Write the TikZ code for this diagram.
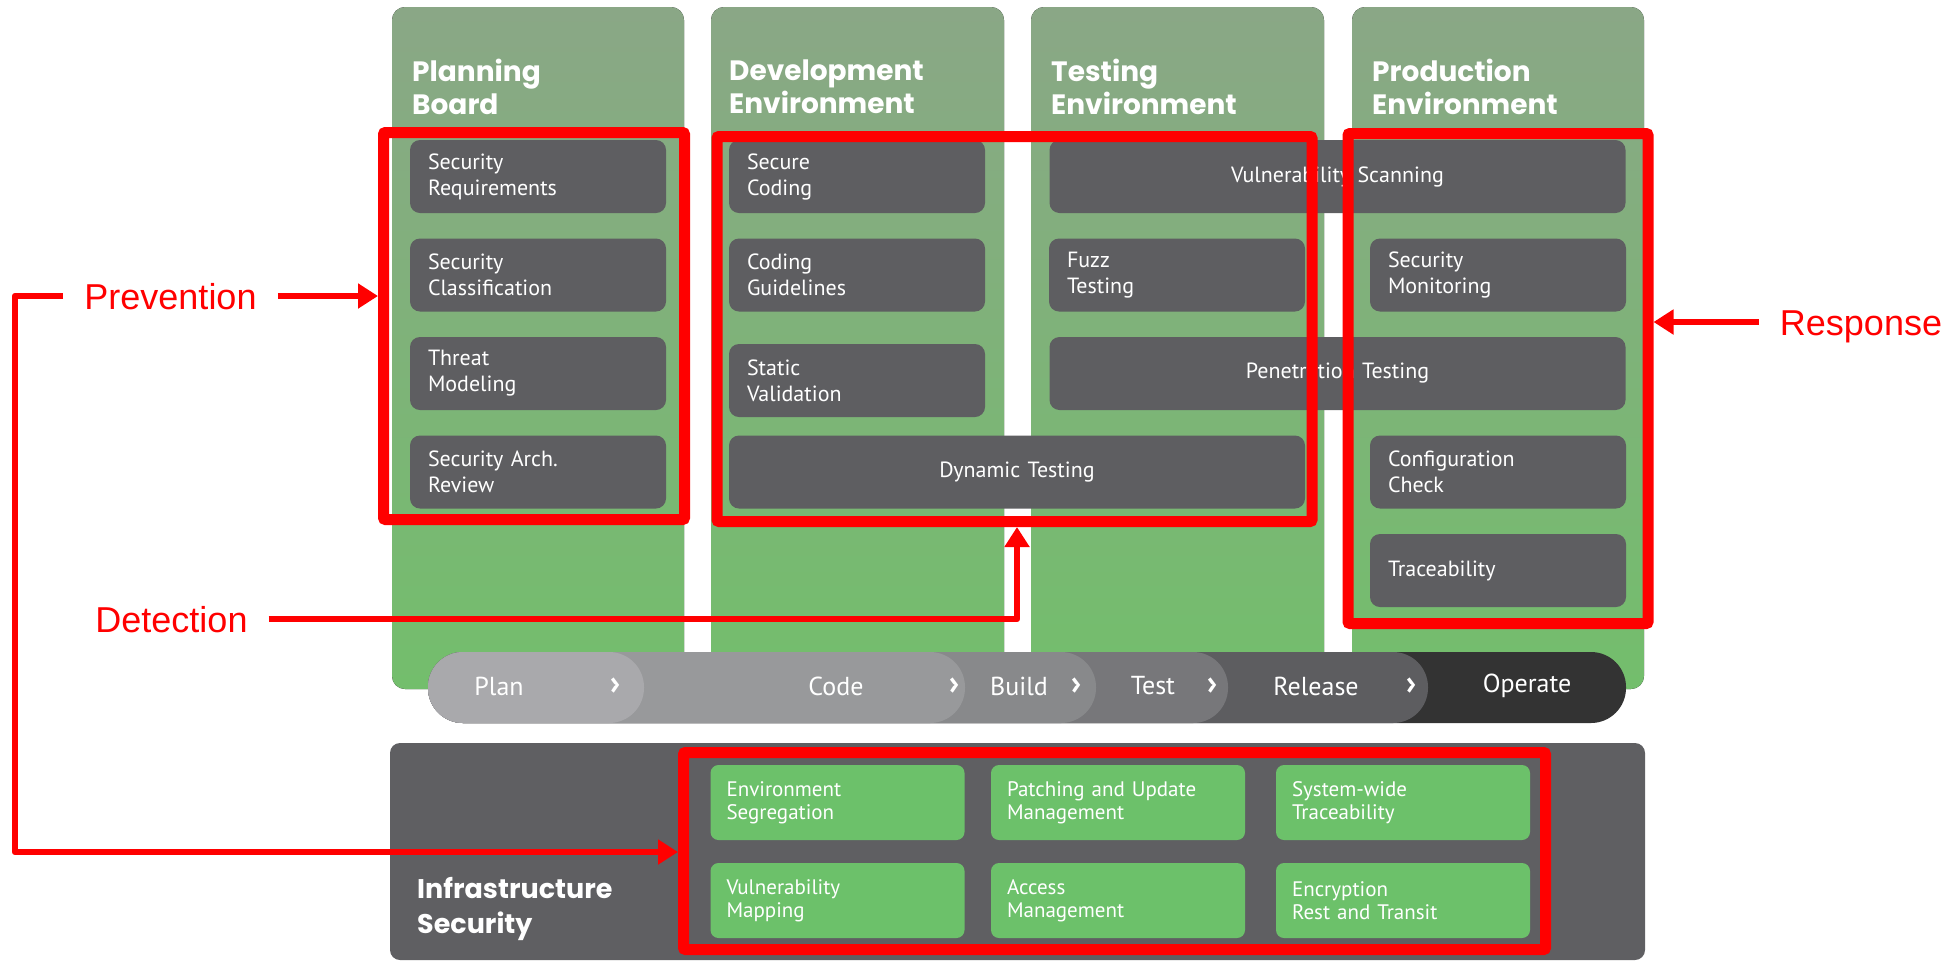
\documentclass[tikz,border=0pt]{standalone}
\usepackage{fontspec}
\setmainfont{PT Sans}
\newfontfamily\titlefont{Poppins}
\newfontfamily\labelfont{Liberation Sans}
\usetikzlibrary{arrows.meta,positioning}
\definecolor{secred}{HTML}{FF0000}
\definecolor{seccoltop}{HTML}{8AA786}
\definecolor{seccolbot}{HTML}{73BE6C}
\definecolor{secbox}{HTML}{5E5E61}
\definecolor{secinfra}{HTML}{5F5F62}
\definecolor{secleaf}{HTML}{6CC16A}
\definecolor{secplan}{HTML}{A9A9AC}
\definecolor{seccode}{HTML}{98999B}
\definecolor{secbuild}{HTML}{88898B}
\definecolor{sectest}{HTML}{77777A}
\definecolor{secrelease}{HTML}{5D5D60}
\definecolor{secoperate}{HTML}{333333}

\tikzset{
  darkbox/.style={fill=secbox, rounded corners=10pt, minimum height=73pt, text width=220pt,
    inner xsep=18pt, inner ysep=0pt, align=left, text=white, font=\fontsize{22}{26}\selectfont},
  widebox/.style={darkbox, text width=540pt, align=center},
  leafbox/.style={fill=secleaf, rounded corners=8pt, minimum height=75pt, text width=222pt,
    inner xsep=16pt, inner ysep=0pt, align=left, text=white, font=\fontsize{21}{23}\selectfont},
  coltitle/.style={anchor=west, inner sep=0pt, align=left, text=white,
    font=\titlefont\bfseries\fontsize{28}{33}\selectfont},
  redframe/.style={draw=secred, line width=11pt, rounded corners=2pt, inner sep=0pt},
  redline/.style={draw=secred, line width=6.5pt, line join=round, -{Triangle[length=20pt,width=24pt]}},
  redlabel/.style={text=secred, font=\labelfont\fontsize{36}{40}\selectfont, inner xsep=21pt,
    inner ysep=0pt, text height=26pt, text depth=0pt},
  stage/.style={text=white, font=\fontsize{26}{30}\selectfont},
  chevron/.style={text=white, font=\bfseries\fontsize{34}{34}\selectfont},
}

\begin{document}
\begin{tikzpicture}[x=1pt,y=-1pt]
\useasboundingbox (0,0) rectangle (1956,962);

% environment columns
\fill[top color=seccoltop, bottom color=seccolbot, rounded corners=13pt] (392,7) rectangle (684,689);
\fill[top color=seccoltop, bottom color=seccolbot, rounded corners=13pt] (711,7) rectangle (1004,689);
\fill[top color=seccoltop, bottom color=seccolbot, rounded corners=13pt] (1031,7) rectangle (1324,689);
\fill[top color=seccoltop, bottom color=seccolbot, rounded corners=13pt] (1352,7) rectangle (1644,689);

\node[coltitle] (planning) at (412,87) {Planning\\Board};
\node[coltitle] (develop) at (729,87) {Development\\Environment};
\node[coltitle] (testing) at (1051,87) {Testing\\Environment};
\node[coltitle] (production) at (1372,87) {Production\\Environment};

% activities per environment
\node[darkbox] (secreq) at (538,176.5) {Security\\Requirements};
\node[darkbox] (secclass) at (538,275) {Security\\Classification};
\node[darkbox] (threat) at (538,373.5) {Threat\\Modeling};
\node[darkbox] (archrev) at (538,472) {Security Arch.\\Review};

\node[darkbox] (securecode) at (857,176.5) {Secure\\Coding};
\node[darkbox] (guidelines) at (857,275) {Coding\\Guidelines};
\node[darkbox] (static) at (857,380.5) {Static\\Validation};
\node[widebox] (dynamic) at (1017,472) {Dynamic Testing};

\node[widebox] (vulnscan) at (1337.5,176.5) {Vulnerability Scanning};
\node[darkbox] (fuzz) at (1177,275) {Fuzz\\Testing};
\node[widebox] (pentest) at (1337.5,373.5) {Penetration Testing};

\node[darkbox] (monitor) at (1498,275) {Security\\Monitoring};
\node[darkbox] (config) at (1498,472) {Configuration\\Check};
\node[darkbox] (trace) at (1498,570.5) {Traceability};

% pipeline
\fill[secoperate, rounded corners=35pt] (428,652) rectangle (1626,723);
\fill[secrelease, rounded corners=35pt] (428,652) rectangle (1428,723);
\fill[sectest, rounded corners=35pt] (428,652) rectangle (1228,723);
\fill[secbuild, rounded corners=35pt] (428,652) rectangle (1096,723);
\fill[seccode, rounded corners=35pt] (428,652) rectangle (965,723);
\fill[secplan, rounded corners=35pt] (428,652) rectangle (644,723);

\node[stage] (plan) at (499,686) {Plan};
\node[stage] (code) at (836,686) {Code};
\node[stage] (build) at (1019,686) {Build};
\node[stage] (test) at (1153,686) {Test};
\node[stage] (release) at (1316,686) {Release};
\node[stage] (operate) at (1527,686) {Operate};
\node[chevron] (chev1) at (615,686) {›};
\node[chevron] (chev2) at (954,686) {›};
\node[chevron] (chev3) at (1076,686) {›};
\node[chevron] (chev4) at (1212,686) {›};
\node[chevron] (chev5) at (1411,686) {›};

% infrastructure
\fill[secinfra, rounded corners=10pt] (390,743) rectangle (1645,960);
\node[coltitle, font=\titlefont\bfseries\fontsize{27}{35}\selectfont] (infratitle) at (417,909) {Infrastructure\\Security};

\node[leafbox] (envseg) at (837.5,802.5) {Environment\\Segregation};
\node[leafbox] (patching) at (1118,802.5) {Patching and Update\\Management};
\node[leafbox] (systrace) at (1403,802.5) {System-wide\\Traceability};
\node[leafbox] (vulnmap) at (837.5,900.5) {Vulnerability\\Mapping};
\node[leafbox] (access) at (1118,900.5) {Access\\Management};
\node[leafbox] (encrypt) at (1403,900.5) {Encryption\\Rest and Transit};

% control groups
\node[redframe, minimum width=301pt, minimum height=387pt] (prevbox) at (534,326) {};
\node[redframe, minimum width=595pt, minimum height=385pt] (detbox) at (1014.5,329) {};
\node[redframe, minimum width=300pt, minimum height=490pt] (respbox) at (1498,378.5) {};
\node[redframe, minimum width=862pt, minimum height=197pt] (infraframe) at (1114.5,851) {};

\node[redlabel] (prevlabel) at (170.5,296) {Prevention};
\node[redlabel] (detlabel) at (171.5,619) {Detection};
\node[redlabel] (resplabel) at (1861,322) {Response};

\coordinate (prevbend) at (15,852);
\coordinate (detbend) at (1017,619);

\draw[redline] (prevlabel.east) -- (prevlabel.east -| prevbox.west);
\draw[redline] (prevlabel.west) -| (prevbend) -- (prevbend -| infraframe.west);
\draw[redline] (detlabel.east) -- (detbend) -- (detbend |- detbox.south);
\draw[redline] (resplabel.west) -- (resplabel.west -| respbox.east);
\end{tikzpicture}
\end{document}
